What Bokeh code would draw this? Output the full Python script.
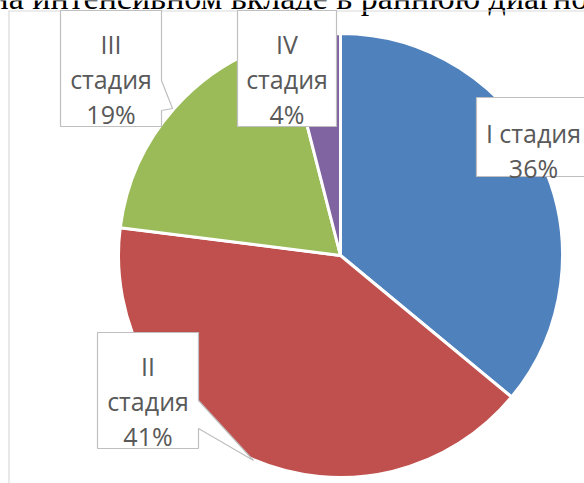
from bokeh.plotting import figure
from bokeh.embed import file_html
from bokeh.resources import INLINE
from bokeh.core.properties import value
import math

# ---- data ----
title = "на интенсивном вкладе в раннюю диагностику"
stages = ["I стадия", "II стадия", "III стадия", "IV стадия"]
shares = [36, 41, 19, 4]
colors = ["#4f81bd", "#c0504d", "#9bbb59", "#8064a2"]
label_lines = [["I стадия", "36%"], ["II", "стадия", "41%"], ["III", "стадия", "19%"], ["IV", "стадия", "4%"]]

W, H = 584, 483
def X(px):
    return px
def Y(py):
    return H - py

p = figure(width=W, height=H, x_range=(0, W), y_range=(0, H),
           output_backend="svg", toolbar_location=None, min_border=0)
p.axis.visible = False
p.grid.visible = False
p.outline_line_color = None
p.background_fill_color = "white"
p.border_fill_color = "white"

# document text above the chart (cut off at the top)
p.text(x=[X(-10)], y=[Y(-3)], text=[title], text_font=value("Liberation Serif"),
       text_font_size="34px", text_align="left", text_baseline="alphabetic", text_color="black")

# chart area border (left and top visible)
p.segment(x0=[X(8.5), X(8)], y0=[Y(10), Y(10.5)], x1=[X(8.5), X(600)], y1=[Y(500), Y(10.5)],
          line_color="#d9d9d9", line_width=1.2)

# pie
cx, cy, r = X(340), Y(255), 222
total = sum(shares)
starts, ends = [], []
cum = 0.0
for s in shares:
    a0 = cum / total * 2 * math.pi
    cum += s
    a1 = cum / total * 2 * math.pi
    starts.append(math.pi / 2 - a0)
    ends.append(math.pi / 2 - a1)
p.wedge(x=[cx] * 4, y=[cy] * 4, radius=r, start_angle=starts, end_angle=ends,
        direction="clock", fill_color=colors, line_color="white", line_width=3)

# label boxes (layout)
boxes = [
    [(476, 97), (600, 97), (600, 176), (476, 176)],
    [(97, 332), (198, 332), (198, 400), (253, 460), (198, 428), (198, 448), (97, 448)],
    [(60, 10), (161, 10), (161, 80), (172, 108), (161, 110), (161, 126), (60, 126)],
    [(237, 10), (336, 10), (336, 126), (237, 126)],
]
p.patches(xs=[[X(a) for a, b in bx] for bx in boxes], ys=[[Y(b) for a, b in bx] for bx in boxes],
          fill_color="white", line_color="#bfbfbf", line_width=1.2)

centers = [533, 147.5, 110.5, 286.5]
first_base = [132, 365, 43, 43]
lh = 35
tx, ty, tt = [], [], []
for i, lines in enumerate(label_lines):
    for j, ln in enumerate(lines):
        tx.append(X(centers[i]))
        ty.append(Y(first_base[i] + j * lh))
        tt.append(ln)
p.text(x=tx, y=ty, text=tt, text_font=value("Open Sans"), text_font_size="25px",
       text_align="center", text_baseline="alphabetic", text_color="#595959")

open("out.html", "w").write(file_html(p, INLINE))
